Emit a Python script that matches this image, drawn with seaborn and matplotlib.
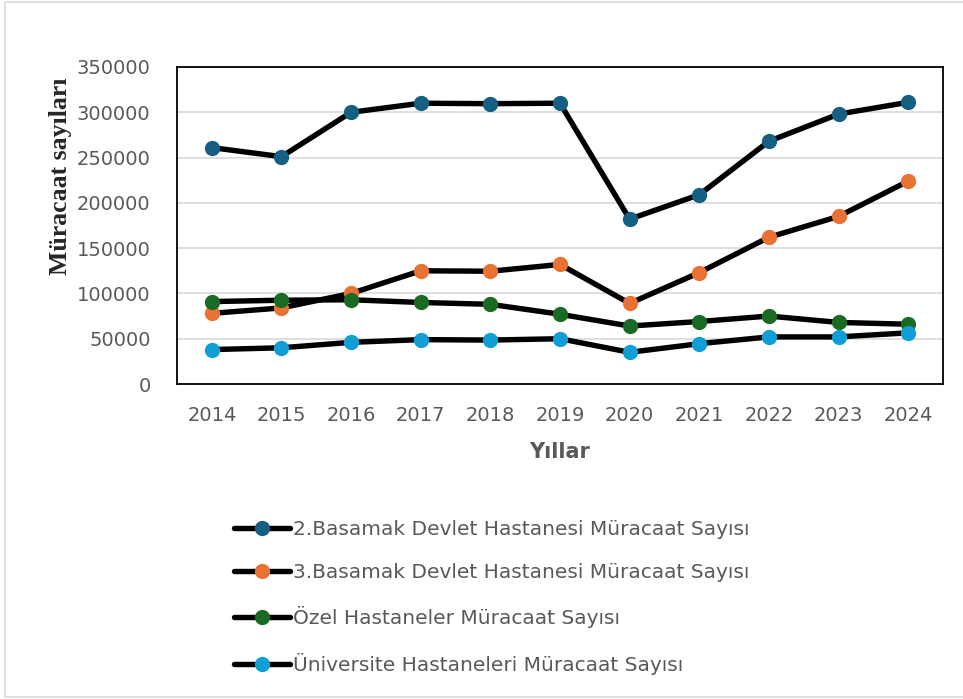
import matplotlib
matplotlib.use("Agg")
import matplotlib.pyplot as plt
from matplotlib.patches import Rectangle
import seaborn as sns
import pandas as pd

years = [2014, 2015, 2016, 2017, 2018, 2019, 2020, 2021, 2022, 2023, 2024]

basamak2 = [261000, 251000, 300000, 310000, 309500, 310000, 182000, 209000, 268000, 298000, 311000]
basamak3 = [78000, 84000, 100000, 125000, 124500, 132000, 89000, 123000, 162000, 185000, 224000]
ozel = [91000, 92500, 93000, 90000, 88000, 77000, 64000, 69000, 75000, 68000, 66000]
universite = [38000, 40000, 46000, 49000, 48500, 50000, 35000, 44500, 52000, 52000, 56500]

series_names = [
    "2.Basamak Devlet Hastanesi Müracaat Sayısı",
    "3.Basamak Devlet Hastanesi Müracaat Sayısı",
    "Özel Hastaneler Müracaat Sayısı",
    "Üniversite Hastaneleri Müracaat Sayısı",
]
series_values = [basamak2, basamak3, ozel, universite]
marker_colors = ["#156082", "#E97132", "#196B24", "#0F9ED5"]

y_ticks = [0, 50000, 100000, 150000, 200000, 250000, 300000, 350000]

sns.set_theme(style="white")
plt.rcParams["font.family"] = ["DejaVu Sans"]

W, H = 963, 699
fig = plt.figure(figsize=(W / 100, H / 100), dpi=100)
ax = fig.add_axes([177 / W, 1 - 384 / H, (943 - 177) / W, (384 - 67) / H])

for name, vals, c in zip(series_names, series_values, marker_colors):
    df = pd.DataFrame({"Yıl": years, "Değer": vals})
    sns.lineplot(
        data=df, x="Yıl", y="Değer", ax=ax, color="black", linewidth=3.9,
        marker="o", markersize=11, markerfacecolor=c, markeredgecolor=c,
        markeredgewidth=0, label=name, zorder=3,
    )

ax.set_xlim(years[0] - 0.5, years[-1] + 0.5)
ax.set_ylim(0, 350000)
ax.set_xticks(years)
ax.set_xticklabels([str(y) for y in years])
ax.set_yticks(y_ticks)
ax.set_yticklabels([str(v) for v in y_ticks])
ax.yaxis.grid(True, color="#d9d9d9", linewidth=1.2)
ax.xaxis.grid(False)
ax.set_axisbelow(True)
for s in ax.spines.values():
    s.set_visible(True)
    s.set_color("black")
    s.set_linewidth(1.3)

ax.tick_params(axis="both", length=0, labelsize=14, labelcolor="#595959")
ax.tick_params(axis="x", pad=16)
ax.tick_params(axis="y", pad=19)

ax.set_ylabel("")
ax.set_xlabel("Yıllar", fontsize=15, fontweight="bold", color="#595959", labelpad=12)

fig.text(60 / W, 1 - 176 / H, "Müracaat sayıları", rotation=90, ha="center", va="center",
         fontsize=18.5, fontweight="bold", family=["Liberation Serif"], color="#262626")

leg = ax.legend(
    loc="upper left", bbox_to_anchor=(224 / W, 1 - 510 / H),
    bbox_transform=fig.transFigure, frameon=False, fontsize=14.5,
    handlelength=2.8, handletextpad=0.15, labelspacing=1.2, borderpad=0,
    numpoints=1,
)
for t in leg.get_texts():
    t.set_color("#595959")

fig.patches.append(Rectangle((5 / W, 2 / H), 1.2, 1 - 4 / H, transform=fig.transFigure,
                             fill=False, edgecolor="#d9d9d9", linewidth=1.2))

fig.savefig("out.png", dpi=100, facecolor="white")
